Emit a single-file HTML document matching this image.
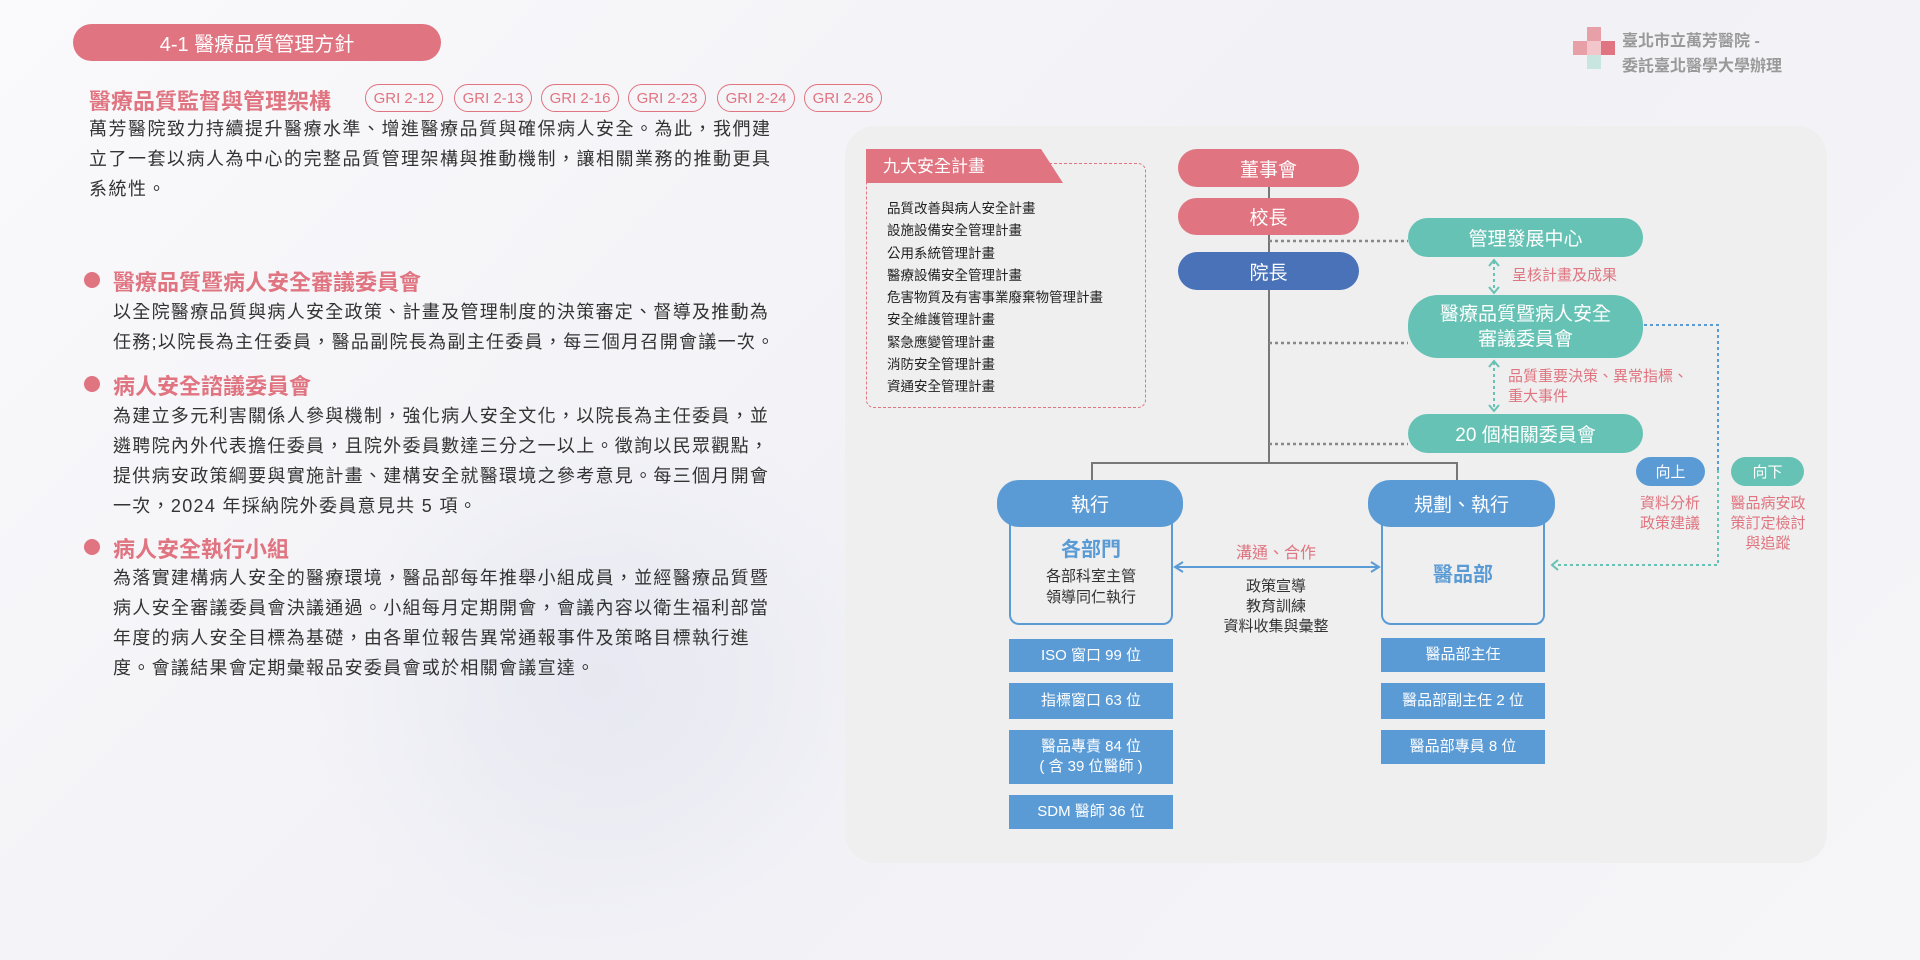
<!DOCTYPE html>
<html><head><meta charset="utf-8"><style>
*{margin:0;padding:0;box-sizing:border-box}
body{width:1920px;height:960px;position:relative;overflow:hidden;background:linear-gradient(135deg,#fafafc 0%,#f1f1f6 50%,#f6f6f9 100%);font-family:"Liberation Sans","Noto Sans CJK TC",sans-serif;color:#333}
.a{position:absolute}
.pill{position:absolute;border-radius:20px;color:#fff;display:flex;align-items:center;justify-content:center;text-align:center}
.gri{position:absolute;top:84px;height:28px;width:78px;border:1.5px solid #e07480;border-radius:14px;color:#e07480;font-size:15px;display:flex;align-items:center;justify-content:center}
.p{font-size:18px;line-height:30px;color:#333;letter-spacing:1.3px}
.h{font-size:22px;font-weight:bold;color:#e07480}
.dot{position:absolute;width:16px;height:16px;border-radius:50%;background:#e07480}
.bx{position:absolute;background:#5b9bd5;color:#fff;font-size:15px;display:flex;align-items:center;justify-content:center;text-align:center;line-height:20px}
.li{font-size:13.5px;line-height:22.3px;color:#222}
</style></head><body>
<div class="a" style="left:300px;top:400px;width:600px;height:560px;background:radial-gradient(ellipse at center,rgba(220,222,235,.5),rgba(240,240,246,0) 70%)"></div>
<div class="pill" style="left:73px;top:24px;width:368px;height:37px;background:#e07480;font-size:20px">4-1 醫療品質管理方針</div>
<svg class="a" style="left:1573px;top:27px" width="42" height="44"><rect x="14" y="0" width="14" height="14" fill="#e8a0a8"/><rect x="0" y="14" width="14" height="14" fill="#e8a0a8"/><rect x="14" y="14" width="14" height="14" fill="#f3c6cb"/><rect x="28" y="14" width="14" height="14" fill="#e07480"/><rect x="14" y="28" width="14" height="14" fill="#c8e6df"/></svg>
<div class="a" style="left:1622px;top:29px;font-size:16px;line-height:25px;color:#999;font-weight:bold">臺北市立萬芳醫院 -<br>委託臺北醫學大學辦理</div>
<div class="a h" style="left:89px;top:84px">醫療品質監督與管理架構</div>
<div class="gri" style="left:365px">GRI 2-12</div>
<div class="gri" style="left:454px">GRI 2-13</div>
<div class="gri" style="left:541px">GRI 2-16</div>
<div class="gri" style="left:628px">GRI 2-23</div>
<div class="gri" style="left:717px">GRI 2-24</div>
<div class="gri" style="left:804px">GRI 2-26</div>
<div class="a p" style="left:89px;top:114px;width:690px;letter-spacing:1.5px">萬芳醫院致力持續提升醫療水準、增進醫療品質與確保病人安全。為此，我們建立了一套以病人為中心的完整品質管理架構與推動機制，讓相關業務的推動更具系統性。</div>
<div class="dot" style="left:84px;top:272px"></div>
<div class="a h" style="left:113px;top:265px">醫療品質暨病人安全審議委員會</div>
<div class="a p" style="left:113px;top:297px;width:700px;letter-spacing:1.3px">以全院醫療品質與病人安全政策、計畫及管理制度的決策審定、督導及推動為<br>任務;以院長為主任委員，醫品副院長為副主任委員，每三個月召開會議一次。</div>
<div class="dot" style="left:84px;top:376px"></div>
<div class="a h" style="left:113px;top:369px">病人安全諮議委員會</div>
<div class="a p" style="left:113px;top:401px;width:668px">為建立多元利害關係人參與機制，強化病人安全文化，以院長為主任委員，並遴聘院內外代表擔任委員，且院外委員數達三分之一以上。徵詢以民眾觀點，提供病安政策綱要與實施計畫、建構安全就醫環境之參考意見。每三個月開會一次，2024 年採納院外委員意見共 5 項。</div>
<div class="dot" style="left:84px;top:539px"></div>
<div class="a h" style="left:113px;top:532px">病人安全執行小組</div>
<div class="a p" style="left:113px;top:563px;width:668px">為落實建構病人安全的醫療環境，醫品部每年推舉小組成員，並經醫療品質暨病人安全審議委員會決議通過。小組每月定期開會，會議內容以衛生福利部當年度的病人安全目標為基礎，由各單位報告異常通報事件及策略目標執行進度。會議結果會定期彙報品安委員會或於相關會議宣達。</div>

<div class="a" style="left:845px;top:126px;width:982px;height:737px;background:#eeefee;border-radius:30px"></div>
<div class="a" style="left:866px;top:163px;width:280px;height:245px;border:1.5px dashed #e07480;border-radius:8px"></div>
<svg class="a" style="left:866px;top:149px" width="200" height="34"><polygon points="0,0 175,0 197,34 0,34" fill="#e07480"/></svg>
<div class="a" style="left:883px;top:152px;color:#fff;font-size:17px">九大安全計畫</div>
<div class="a li" style="left:887px;top:198px">品質改善與病人安全計畫<br>設施設備安全管理計畫<br>公用系統管理計畫<br>醫療設備安全管理計畫<br>危害物質及有害事業廢棄物管理計畫<br>安全維護管理計畫<br>緊急應變管理計畫<br>消防安全管理計畫<br>資通安全管理計畫</div>

<svg class="a" style="left:0;top:0" width="1920" height="960">
<g stroke="#777" stroke-width="2" fill="none">
<line x1="1269" y1="187" x2="1269" y2="463"/>
<polyline points="1092,480 1092,463 1457,463 1457,480"/>
</g>
<g stroke="#888" stroke-width="2.5" stroke-dasharray="3,3">
<line x1="1269" y1="241" x2="1408" y2="241"/>
<line x1="1269" y1="343" x2="1408" y2="343"/>
<line x1="1269" y1="444" x2="1408" y2="444"/>
</g>
<g stroke="#66c2b4" stroke-width="2" stroke-dasharray="3,3" fill="none">
<line x1="1494" y1="261" x2="1494" y2="292"/>
<line x1="1494" y1="362" x2="1494" y2="410"/>
<polyline points="1718,470 1718,565 1556,565"/>
</g>
<g stroke="#66c2b4" stroke-width="2" fill="none">
<polyline points="1489,266 1494,260 1499,266"/><polyline points="1489,287 1494,293 1499,287"/>
<polyline points="1489,367 1494,361 1499,367"/><polyline points="1489,405 1494,411 1499,405"/>
<polyline points="1558,560 1552,565 1558,570"/>
</g>
<g stroke="#5b9bd5" stroke-width="2" fill="none">
<polyline points="1718,470 1718,325 1614,325" stroke-dasharray="3,3"/>
<polyline points="1616,320 1610,325 1616,330"/>
<line x1="1176" y1="567" x2="1378" y2="567"/>
<polyline points="1183,562 1175,567 1183,572"/><polyline points="1371,562 1379,567 1371,572"/>
</g>
</svg>
<div class="pill" style="left:1178px;top:149px;width:181px;height:38px;background:#e07480;font-size:19px">董事會</div>
<div class="pill" style="left:1178px;top:198px;width:181px;height:37px;background:#e07480;font-size:19px">校長</div>
<div class="pill" style="left:1178px;top:252px;width:181px;height:38px;background:#4a72b8;font-size:19px">院長</div>
<div class="pill" style="left:1408px;top:218px;width:235px;height:39px;background:#66c2b4;font-size:19px">管理發展中心</div>
<div class="pill" style="left:1408px;top:295px;width:235px;height:63px;background:#66c2b4;font-size:19px;line-height:25px;border-radius:30px">醫療品質暨病人安全<br>審議委員會</div>
<div class="pill" style="left:1408px;top:414px;width:235px;height:39px;background:#66c2b4;font-size:19px">20 個相關委員會</div>
<div class="a" style="left:1512px;top:264px;font-size:15px;color:#e07480">呈核計畫及成果</div>
<div class="a" style="left:1508px;top:367px;font-size:15px;line-height:20px;color:#e07480">品質重要決策、異常指標、<br>重大事件</div>
<div class="pill" style="left:1636px;top:457px;width:69px;height:29px;background:#5b9bd5;font-size:15px">向上</div>
<div class="pill" style="left:1731px;top:457px;width:73px;height:29px;background:#66c2b4;font-size:15px">向下</div>
<div class="a" style="left:1630px;top:494px;width:80px;text-align:center;font-size:15px;line-height:20px;color:#e07480">資料分析<br>政策建議</div>
<div class="a" style="left:1722px;top:494px;width:92px;text-align:center;font-size:15px;line-height:20px;color:#e07480">醫品病安政<br>策訂定檢討<br>與追蹤</div>

<div class="a" style="left:1009px;top:505px;width:164px;height:120px;border:2px solid #5b9bd5;border-top:none;border-radius:0 0 10px 10px;background:#eeefee"></div>
<div class="pill" style="left:997px;top:480px;width:186px;height:47px;background:#5b9bd5;font-size:19px;border-radius:22px">執行</div>
<div class="a" style="left:1009px;top:533px;width:164px;text-align:center;color:#5b9bd5;font-size:20px;font-weight:bold">各部門</div>
<div class="a" style="left:1009px;top:566px;width:164px;text-align:center;font-size:15px;line-height:21px">各部科室主管<br>領導同仁執行</div>
<div class="a" style="left:1381px;top:505px;width:164px;height:120px;border:2px solid #5b9bd5;border-top:none;border-radius:0 0 10px 10px;background:#eeefee"></div>
<div class="pill" style="left:1368px;top:480px;width:187px;height:47px;background:#5b9bd5;font-size:19px;border-radius:22px">規劃、執行</div>
<div class="a" style="left:1381px;top:558px;width:164px;text-align:center;color:#5b9bd5;font-size:20px;font-weight:bold">醫品部</div>
<div class="a" style="left:1200px;top:539px;width:152px;text-align:center;color:#e07480;font-size:16px">溝通、合作</div>
<div class="a" style="left:1200px;top:577px;width:152px;text-align:center;font-size:15px;line-height:20px">政策宣導<br>教育訓練<br>資料收集與彙整</div>
<div class="bx" style="left:1009px;top:639px;width:164px;height:33px">ISO 窗口 99 位</div>
<div class="bx" style="left:1009px;top:683px;width:164px;height:36px">指標窗口 63 位</div>
<div class="bx" style="left:1009px;top:730px;width:164px;height:54px">醫品專責 84 位<br>( 含 39 位醫師 )</div>
<div class="bx" style="left:1009px;top:795px;width:164px;height:34px">SDM 醫師 36 位</div>
<div class="bx" style="left:1381px;top:638px;width:164px;height:34px">醫品部主任</div>
<div class="bx" style="left:1381px;top:683px;width:164px;height:36px">醫品部副主任 2 位</div>
<div class="bx" style="left:1381px;top:730px;width:164px;height:34px">醫品部專員 8 位</div>
</body></html>
